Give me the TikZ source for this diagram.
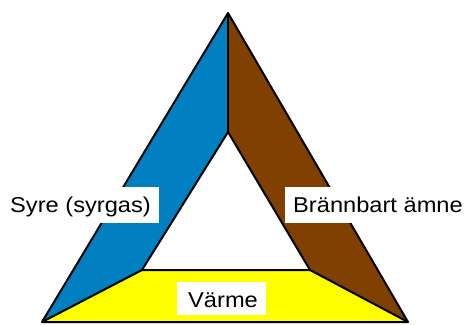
\documentclass[tikz,border=0pt]{standalone}
\usepackage{fontspec}
\setmainfont[FakeStretch=1.1]{Liberation Sans}
\definecolor{oxblue}{RGB}{0,128,192}
\definecolor{fuelbrown}{RGB}{128,64,0}
\definecolor{heatyellow}{RGB}{255,255,0}
\begin{document}
\begin{tikzpicture}[x=1pt,y=-1pt,
  edge/.style={draw=black,line width=2pt,line join=round},
  lbox/.style={fill=white},
  lbl/.style={anchor=base west,inner sep=0pt,font=\fontsize{21.5}{24}\selectfont}]
\useasboundingbox (0,0) rectangle (470,324);
\coordinate (A) at (228,13);
\coordinate (L) at (42,322);
\coordinate (R) at (408,322);
\coordinate (a) at (228,132);
\coordinate (l) at (142,270);
\coordinate (r) at (310,270);
\fill[oxblue] (A) -- (L) -- (l) -- (a) -- cycle;
\fill[fuelbrown] (A) -- (a) -- (r) -- (R) -- cycle;
\fill[heatyellow] (L) -- (R) -- (r) -- (l) -- cycle;
\draw[edge] (A) -- (L) -- (R) -- cycle;
\draw[edge] (a) -- (l) -- (r) -- cycle;
\draw[edge] (A) -- (a);
\draw[edge] (L) -- (l);
\draw[edge] (R) -- (r);
\fill[lbox] (0,187) rectangle (159,223);
\fill[lbox] (285,187) rectangle (470,223);
\fill[lbox] (177,282) rectangle (266,315);
\node[lbl] (syre) at (10,212) {Syre (syrgas)};
\node[lbl] (fuel) at (293,212.5) {Brännbart ämne};
\node[lbl] (heat) at (188,307) {Värme};
\end{tikzpicture}
\end{document}
